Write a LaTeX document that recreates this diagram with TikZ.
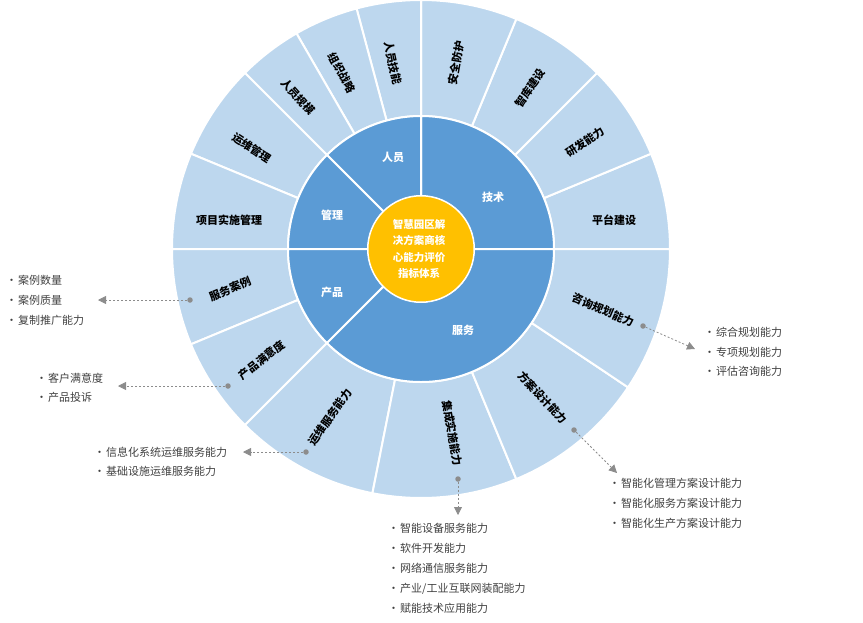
\documentclass[tikz,border=0pt]{standalone}
\usepackage{fontspec}
\setmainfont{Noto Sans CJK SC}
\usetikzlibrary{arrows.meta}
\definecolor{outerc}{HTML}{BDD7EE}
\definecolor{midc}{HTML}{5B9BD5}
\definecolor{corec}{HTML}{FFC000}
\definecolor{arrc}{HTML}{8C8C8C}
\definecolor{listc}{HTML}{404040}
\newcommand{\mysector}[5]{%
  \fill[#5, draw=white, line width=2pt]
    ([shift={(#1:#3)}]C) arc[start angle=#1, end angle=#2, radius=#3]
    -- ([shift={(#2:#4)}]C) arc[start angle=#2, end angle=#1, radius=#4] -- cycle;}
\tikzset{
  lbl/.style={inner sep=0pt, font=\bfseries\fontsize{11}{13}\selectfont, text=black, text height=9.7pt, text depth=1.3pt},
  midlbl/.style={inner sep=0pt, font=\bfseries\fontsize{11}{13}\selectfont, text=white, text height=9.7pt, text depth=1.3pt},
  item/.style={inner sep=0pt, anchor=west, font=\fontsize{11}{13}\selectfont, text=listc, text height=9.7pt, text depth=1.3pt},
  dotnode/.style={circle, fill=arrc, inner sep=0pt, minimum size=5.5pt},
  pointer/.style={arrc, line width=0.8pt, dash pattern=on 2pt off 2pt, -{Triangle[length=8pt,width=8pt]}}
}
\newcommand{\bul}{\makebox[12pt][l]{•}}
\begin{document}
\begin{tikzpicture}[x=1pt,y=1pt]
\useasboundingbox (0,0) rectangle (863,-622);
\coordinate (C) at (421,-249);
% outer ring
\mysector{0}{22.5}{133}{249}{outerc}
\mysector{22.5}{45}{133}{249}{outerc}
\mysector{45}{67.5}{133}{249}{outerc}
\mysector{67.5}{90}{133}{249}{outerc}
\mysector{90}{105}{133}{249}{outerc}
\mysector{105}{120}{133}{249}{outerc}
\mysector{120}{135}{133}{249}{outerc}
\mysector{135}{157.5}{133}{249}{outerc}
\mysector{157.5}{180}{133}{249}{outerc}
\mysector{180}{202.5}{133}{249}{outerc}
\mysector{202.5}{225}{133}{249}{outerc}
\mysector{225}{258.75}{133}{249}{outerc}
\mysector{258.75}{292.5}{133}{249}{outerc}
\mysector{292.5}{326.25}{133}{249}{outerc}
\mysector{326.25}{360}{133}{249}{outerc}
% middle ring
\mysector{0}{90}{53}{133}{midc}
\mysector{90}{135}{53}{133}{midc}
\mysector{135}{180}{53}{133}{midc}
\mysector{180}{225}{53}{133}{midc}
\mysector{225}{360}{53}{133}{midc}
% core
\fill[corec, draw=white, line width=1pt] (C) circle[radius=53];
\node[inner sep=0pt, align=center, text=white, font=\bfseries\fontsize{10.5}{16.3}\selectfont] (core) at (419,-249)
  {智慧园区解\\决方案商核\\心能力评价\\指标体系};
% middle labels
\node[midlbl] (m1) at (393,-157) {人员};
\node[midlbl] (m2) at (332,-215) {管理};
\node[midlbl] (m3) at (493,-197) {技术};
\node[midlbl] (m4) at (332,-292) {产品};
\node[midlbl] (m5) at (463,-330) {服务};
% outer labels
\node[lbl, rotate=-78] (o1) at (393,-63) {人员技能};
\node[lbl, rotate=-62] (o2) at (342,-73) {组织战略};
\node[lbl, rotate=-48] (o3) at (298,-97) {人员规模};
\node[lbl, rotate=-33] (o4) at (252,-148) {运维管理};
\node[lbl] (o5) at (229,-220) {项目实施管理};
\node[lbl, rotate=22.5] (o6) at (230,-289) {服务案例};
\node[lbl, rotate=38] (o7) at (262,-360) {产品满意度};
\node[lbl, rotate=55] (o8) at (330,-417) {运维服务能力};
\node[lbl, rotate=-80] (o9) at (452,-433) {集成实施能力};
\node[lbl, rotate=-47] (o10) at (543,-398) {方案设计能力};
\node[lbl, rotate=-23] (o11) at (603,-310) {咨询规划能力};
\node[lbl] (o12) at (614,-220) {平台建设};
\node[lbl, rotate=34] (o13) at (585,-142) {研发能力};
\node[lbl, rotate=56] (o14) at (530,-88) {智库建设};
\node[lbl, rotate=80] (o15) at (456,-63) {安全防护};
% pointers
\node[dotnode] (d1) at (190,-300) {};
\coordinate (t1) at (98,-300);
\draw[pointer] (d1) -- (t1);
\node[dotnode] (d2) at (228,-386) {};
\coordinate (t2) at (118,-386);
\draw[pointer] (d2) -- (t2);
\node[dotnode] (d3) at (306,-452) {};
\coordinate (t3) at (243,-452);
\draw[pointer] (d3) -- (t3);
\node[dotnode] (d4) at (458,-479) {};
\coordinate (t4) at (458,-515);
\draw[pointer] (d4) -- (t4);
\node[dotnode] (d5) at (574,-430) {};
\coordinate (t5) at (617,-473);
\draw[pointer] (d5) -- (t5);
\node[dotnode] (d6) at (643,-326) {};
\coordinate (t6) at (695,-349);
\draw[pointer] (d6) -- (t6);
% lists
\node[item] (a1) at (6,-280) {\bul 案例数量};
\node[item] (a2) at (6,-300) {\bul 案例质量};
\node[item] (a3) at (6,-320) {\bul 复制推广能力};
\node[item] (b1) at (36,-378) {\bul 客户满意度};
\node[item] (b2) at (36,-397) {\bul 产品投诉};
\node[item] (c1) at (94,-452) {\bul 信息化系统运维服务能力};
\node[item] (c2) at (94,-471) {\bul 基础设施运维服务能力};
\node[item] (e1) at (388,-528) {\bul 智能设备服务能力};
\node[item] (e2) at (388,-548) {\bul 软件开发能力};
\node[item] (e3) at (388,-568) {\bul 网络通信服务能力};
\node[item] (e4) at (388,-588) {\bul 产业/工业互联网装配能力};
\node[item] (e5) at (388,-608) {\bul 赋能技术应用能力};
\node[item] (f1) at (609,-483) {\bul 智能化管理方案设计能力};
\node[item] (f2) at (609,-503) {\bul 智能化服务方案设计能力};
\node[item] (f3) at (609,-523) {\bul 智能化生产方案设计能力};
\node[item] (g1) at (704,-332) {\bul 综合规划能力};
\node[item] (g2) at (704,-352) {\bul 专项规划能力};
\node[item] (g3) at (704,-371) {\bul 评估咨询能力};
\end{tikzpicture}
\end{document}
